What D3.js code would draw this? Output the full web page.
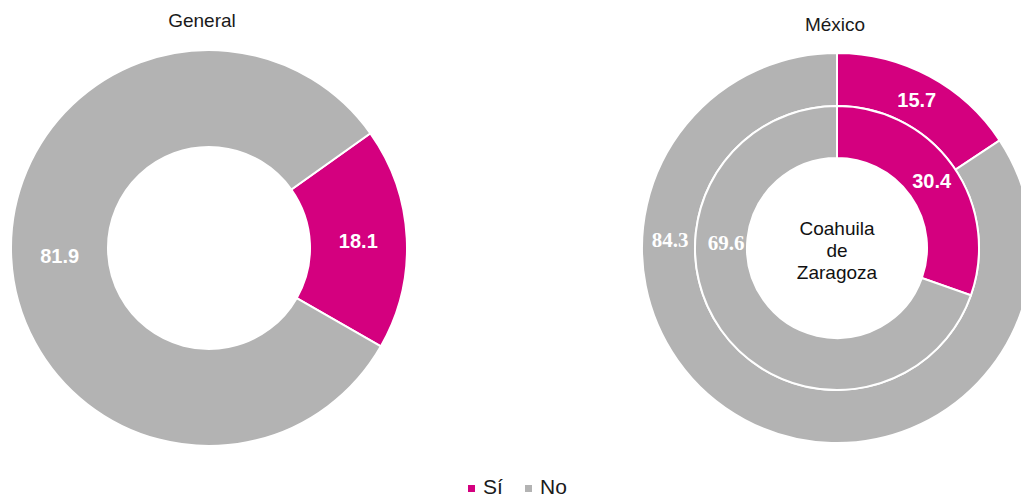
<!DOCTYPE html>
<html>
<head>
<meta charset="utf-8">
<script src="https://cdn.jsdelivr.net/npm/d3@7"></script>
<style>
  html, body { margin: 0; padding: 0; background: #ffffff; }
  svg { display: block; font-family: "Liberation Sans", Arial, sans-serif; }
</style>
</head>
<body>
<svg id="chart" width="1021" height="500"></svg>
<script>
// ---- data ----
const categories = ["Sí", "No"];
const generalValues = [18.1, 81.9];
const mexicoValues = [15.7, 84.3];
const coahuilaValues = [30.4, 69.6];
const chartTitles = ["General", "México"];
const centerLabel = ["Coahuila", "de", "Zaragoza"];

// ---- styles ----
const colors = d3.scaleOrdinal().domain(categories).range(["#d4007f", "#b3b3b3"]);
const svg = d3.select("#chart");
const deg = Math.PI / 180;

function ring(g, values, opts) {
  const pie = d3.pie().sort(null).value(d => d.v)
    .startAngle(opts.start).endAngle(opts.start + 2 * Math.PI);
  const arcs = pie(values.map((v, i) => ({ v, c: categories[i] })));
  const arc = d3.arc().innerRadius(opts.r0).outerRadius(opts.r1);
  g.selectAll(null).data(arcs).enter().append("path")
    .attr("d", arc)
    .attr("fill", d => colors(d.data.c))
    .attr("stroke", "#ffffff")
    .attr("stroke-width", 2)
    .attr("stroke-linejoin", "miter");
  const rm = (opts.r0 + opts.r1) / 2;
  g.selectAll(null).data(arcs).enter().append("text")
    .attr("transform", (d, i) => {
      let a = (d.startAngle + d.endAngle) / 2;
      let r = rm;
      if (opts.labelAngle && opts.labelAngle[i] != null) { a = opts.labelAngle[i]; r = opts.labelRadius[i]; }
      return `translate(${r * Math.sin(a)},${-r * Math.cos(a)})`;
    })
    .attr("text-anchor", "middle")
    .attr("dy", "0.36em")
    .attr("fill", "#ffffff")
    .attr("font-weight", "bold")
    .attr("font-size", (d, i) => (opts.serif && opts.serif[i]) ? 21 : 20)
    .attr("font-family", (d, i) => (opts.serif && opts.serif[i]) ? "'Liberation Serif', 'Times New Roman', serif" : null)
    .text(d => d.data.v.toFixed(1));
}

// ---- left donut: General ----
const gL = svg.append("g").attr("transform", "translate(209,248)");
ring(gL, generalValues, { start: 54.6 * deg, r0: 101, r1: 198 });
svg.append("text").attr("x", 202).attr("y", 27).attr("text-anchor", "middle")
  .attr("font-size", 19).attr("fill", "#1a1a1a").text(chartTitles[0]);

// ---- right donut: México (outer) / Coahuila (inner) ----
const gR = svg.append("g").attr("transform", "translate(837,248)");
ring(gR, mexicoValues, { start: 0, r0: 142, r1: 195,
  labelAngle: [null, -87 * deg], labelRadius: [null, 167], serif: [false, true] });
ring(gR, coahuilaValues, { start: 0, r0: 90, r1: 142,
  labelAngle: [null, -87 * deg], labelRadius: [null, 111], serif: [false, true] });
svg.append("text").attr("x", 835).attr("y", 31).attr("text-anchor", "middle")
  .attr("font-size", 19).attr("fill", "#1a1a1a").text(chartTitles[1]);
gR.append("text").attr("text-anchor", "middle").attr("font-size", 19).attr("fill", "#111111")
  .selectAll("tspan").data(centerLabel).enter().append("tspan")
  .attr("x", 0).attr("y", (d, i) => -13 + i * 22).text(d => d);

// ---- legend ----
const legend = svg.append("g").attr("transform", "translate(468,494)");
const lx = d3.scalePoint().domain(categories).range([0, 57]);
const item = legend.selectAll(null).data(categories).enter().append("g")
  .attr("transform", d => `translate(${lx(d)},0)`);
item.append("rect").attr("x", 0).attr("y", -9).attr("width", 7).attr("height", 7)
  .attr("fill", d => colors(d));
item.append("text").attr("x", 15).attr("y", 0).attr("font-size", 21).attr("fill", "#1a1a1a")
  .text(d => d);
</script>
</body>
</html>
